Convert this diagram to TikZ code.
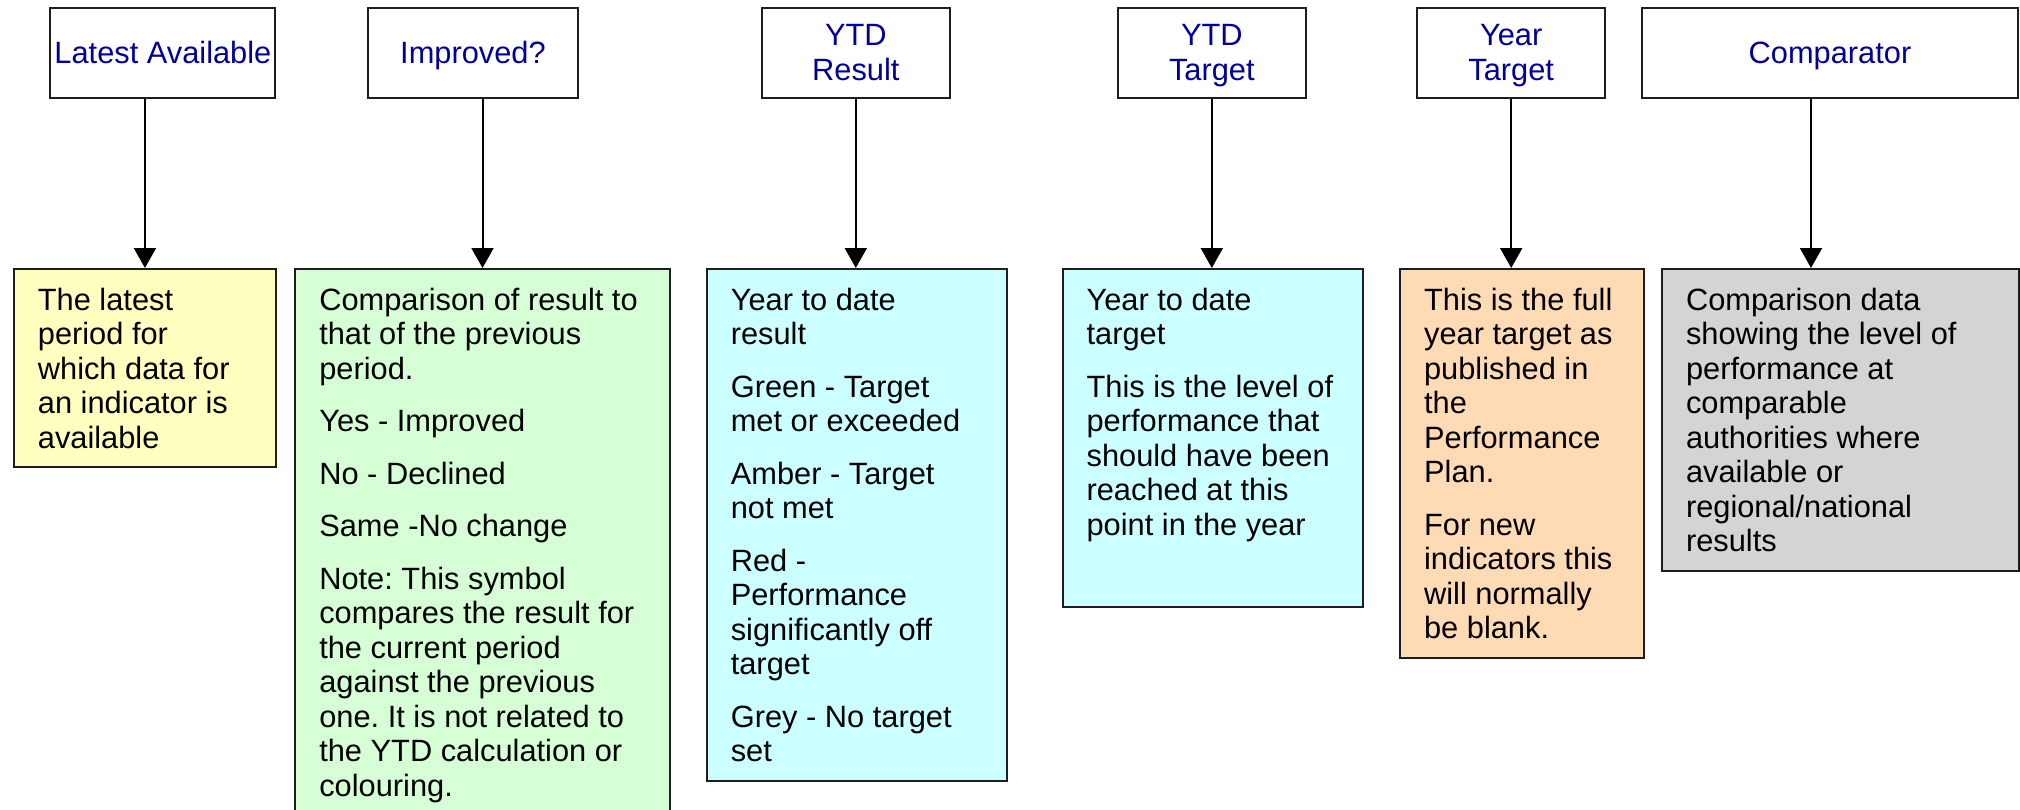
\documentclass[tikz,border=0pt]{standalone}
\usepackage{fontspec}
\setmainfont{Liberation Sans}
\usetikzlibrary{arrows.meta}
\definecolor{navy}{RGB}{0,0,150}
\definecolor{edge}{RGB}{30,30,30}
\definecolor{cyel}{HTML}{FFFFC0}
\definecolor{cgrn}{HTML}{D6FFD6}
\definecolor{ccyn}{HTML}{CCFFFF}
\definecolor{corg}{HTML}{FFDBB5}
\definecolor{cgry}{HTML}{D4D4D4}
\newcommand\pgap{\\[18pt]}
\newcommand\lowtext[3]{\parbox[t][#2][t]{#1}{\setlength\parindent{0pt}\setlength\parskip{0pt}%
  \fontsize{30.8pt}{34.5pt}\selectfont\frenchspacing
  \vspace*{19pt}\leftskip=24pt\rightskip=-80pt plus 1fil #3}}
\tikzset{
  topbox/.style={draw=edge, line width=2pt, fill=white, text=navy, align=center,
    minimum height=90pt, inner sep=0pt, text depth=0pt, font=\fontsize{30.8pt}{35.5pt}\selectfont},
  lowbox/.style={draw=edge, line width=2pt, inner sep=0pt, anchor=north west, text=black},
  arr/.style={draw=black, line width=2pt, -{Triangle[length=20pt,width=22pt]}}
}
\begin{document}
\begin{tikzpicture}[x=1pt,y=-1pt]
\clip (0,0) rectangle (2020,809);
\fill[white] (0,0) rectangle (2020,809);
% top boxes
\node[topbox, minimum width=225pt] (lat) at (162.9,52.5) {Latest Available};
\node[topbox, minimum width=209.4pt] (imp) at (473,52.5) {Improved?};
\node[topbox, minimum width=187.6pt] (ytr) at (855.8,52.5) {YTD\\Result};
\node[topbox, minimum width=187.9pt] (ytt) at (1211.8,52.5) {YTD\\Target};
\node[topbox, minimum width=188.3pt] (yrt) at (1511.2,52.5) {Year\\Target};
\node[topbox, minimum width=375.4pt] (cmp) at (1830,52.5) {Comparator};
% lower boxes
\node[lowbox, fill=cyel] (yel) at (12.9,268) {\lowtext{262.1pt}{198.4pt}{%
The latest\\period for\\which data for\\an indicator is\\available}};
\node[lowbox, fill=cgrn] (grn) at (294.3,268) {\lowtext{374.4pt}{560pt}{%
Comparison of result to\\that of the previous\\period.\pgap
Yes - Improved\pgap
No - Declined\pgap
Same -No change\pgap
Note: This symbol\\compares the result for\\the current period\\against the previous\\one. It is not related to\\the YTD calculation or\\colouring.}};
\node[lowbox, fill=ccyn] (cy1) at (705.8,268) {\lowtext{300.5pt}{512pt}{%
Year to date\\result\pgap
Green - Target\\met or exceeded\pgap
Amber - Target\\not met\pgap
Red -\\Performance\\significantly off\\target\pgap
Grey - No target\\set}};
\node[lowbox, fill=ccyn] (cy2) at (1061.6,268) {\lowtext{300.4pt}{338pt}{%
Year to date\\target\pgap
This is the level of\\performance that\\should have been\\reached at this\\point in the year}};
\node[lowbox, fill=corg] (ora) at (1399.1,268) {\lowtext{243.6pt}{389.3pt}{%
This is the full\\year target as\\published in\\the\\Performance\\Plan.\pgap
For new\\indicators this\\will normally\\be blank.}};
\node[lowbox, fill=cgry] (gry) at (1661,268) {\lowtext{356.5pt}{302.3pt}{%
Comparison data\\showing the level of\\performance at\\comparable\\authorities where\\available or\\regional/national\\results}};
% connectors
\coordinate (cmpx) at (1811,0);
\draw[arr] (lat.south -| yel.north) -- (yel.north);
\draw[arr] (imp.south -| grn.north) -- (grn.north);
\draw[arr] (ytr.south) -- (ytr.south |- cy1.north);
\draw[arr] (ytt.south) -- (ytt.south |- cy2.north);
\draw[arr] (yrt.south) -- (yrt.south |- ora.north);
\draw[arr] (cmp.south -| cmpx) -- (gry.north -| cmpx);
\end{tikzpicture}
\end{document}
